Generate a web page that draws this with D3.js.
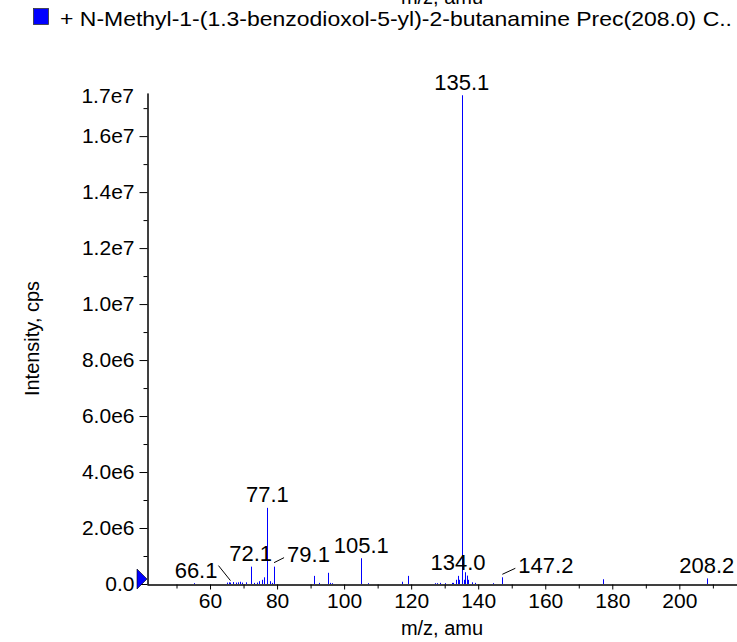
<!DOCTYPE html>
<meta charset="utf-8" />
<style>
  body { margin: 0; background: #fff; }
  svg { display: block; font-family: "Liberation Sans", Arial, Helvetica, sans-serif; }
  .peak { stroke: #0000ff; stroke-width: 1px; }
  .axis path, .axis line { stroke: #000; }
</style>
<body>
<script src="https://d3js.org/d3.v7.min.js"></script>
<script>

// ---- data ----
var legendText = "+ N-Methyl-1-(1.3-benzodioxol-5-yl)-2-butanamine Prec(208.0) C..";

// peak positions (m/z) and intensities (cps)
var peakMz = [55.1, 65.2, 65.7, 66.1, 67.0, 67.7, 68.4, 69.0, 69.6, 70.7,
              72.1, 73.1, 73.9, 74.6, 75.4, 76.2, 77.1, 77.9, 78.5, 79.1,
              91.1, 92.5, 95.1, 95.8, 96.5, 105.1, 107.0, 117.2, 119.1,
              127.1, 127.6, 128.6, 130.1, 132.1, 132.6, 133.3, 134.0, 134.4,
              135.1, 135.7, 136.1, 136.6, 137.1, 138.1, 138.9, 144.3, 147.2,
              177.1, 208.2];
var peakInt = [0.03e6, 0.05e6, 0.06e6, 0.05e6, 0.07e6, 0.05e6, 0.06e6, 0.08e6, 0.05e6, 0.06e6,
               0.62e6, 0.04e6, 0.05e6, 0.10e6, 0.15e6, 0.24e6, 2.72e6, 0.10e6, 0.04e6, 0.62e6,
               0.29e6, 0.04e6, 0.40e6, 0.04e6, 0.03e6, 0.92e6, 0.03e6, 0.08e6, 0.29e6,
               0.03e6, 0.03e6, 0.04e6, 0.03e6, 0.04e6, 0.04e6, 0.15e6, 0.29e6, 0.15e6,
               17.46e6, 0.15e6, 0.42e6, 0.30e6, 0.15e6, 0.06e6, 0.04e6, 0.03e6, 0.24e6,
               0.17e6, 0.20e6];

// annotated peaks
var labelMz = [66.1, 72.1, 77.1, 79.1, 105.1, 134.0, 135.1, 147.2, 208.2];
var labelText = ["66.1", "72.1", "77.1", "79.1", "105.1", "134.0", "135.1", "147.2", "208.2"];

// axis ticks
var xMajor = [60, 80, 100, 120, 140, 160, 180, 200];
var xMinor = [50, 70, 90, 110, 130, 150, 170, 190, 210];
var yMajor = [0, 2e6, 4e6, 6e6, 8e6, 10e6, 12e6, 14e6, 16e6];
var yMinor = [1e6, 3e6, 5e6, 7e6, 9e6, 11e6, 13e6, 15e6, 17e6];
var yTopLabel = "1.7e7";

// ---- layout ----
var W = 737, H = 642;
var mL = 147, mR = 737, mT = 93, mB = 584;

var svg = d3.select("body").append("svg")
    .attr("width", W)
    .attr("height", H);

var x = d3.scaleLinear().domain([41.2, 217.2]).range([mL, mR]);
var y = d3.scaleLinear().domain([0, 17.54e6]).range([mB, mT]);

// cropped title of the panel above
svg.append("text")
    .attr("x", (mL + mR) / 2)
    .attr("y", 4)
    .attr("text-anchor", "middle")
    .style("font-size", "20px")
    .text("m/z, amu");

// legend
svg.append("rect")
    .attr("x", 33.5).attr("y", 8.5)
    .attr("width", 15).attr("height", 16)
    .attr("fill", "#0000ff")
    .attr("stroke", "#333")
    .attr("stroke-width", 0.8);

svg.append("text")
    .attr("x", 60)
    .attr("y", 26)
    .attr("textLength", 672)
    .attr("lengthAdjust", "spacingAndGlyphs")
    .style("font-size", "21px")
    .text(legendText);

// peaks
svg.append("g").selectAll("line")
    .data(peakMz)
    .enter().append("line")
    .attr("class", "peak")
    .attr("x1", function(d) { return Math.round(x(d)) + 0.5; })
    .attr("x2", function(d) { return Math.round(x(d)) + 0.5; })
    .attr("y1", y(0))
    .attr("y2", function(d, i) { return y(peakInt[i]); });

// x axis
var fmtX = function(d) { return d; };
svg.append("g")
    .attr("class", "axis")
    .attr("transform", "translate(0," + (mB + 0.5) + ")")
    .call(d3.axisBottom(x).tickValues(xMinor).tickSize(4).tickSizeOuter(0).tickFormat(""));
var gx = svg.append("g")
    .attr("class", "axis")
    .attr("transform", "translate(0," + (mB + 0.5) + ")")
    .call(d3.axisBottom(x).tickValues(xMajor).tickSize(5).tickSizeOuter(0).tickPadding(4).tickFormat(fmtX));
gx.selectAll("text").style("font-size", "21px").attr("fill", "#000");

// y axis
var fmtY = function(d) {
  if (d === 0) return "0.0";
  return d.toExponential(1).replace("+", "");
};
svg.append("g")
    .attr("class", "axis")
    .attr("transform", "translate(" + (mL + 0.5) + ",0)")
    .call(d3.axisLeft(y).tickValues(yMinor).tickSize(4).tickSizeOuter(0).tickFormat(""));
var gy = svg.append("g")
    .attr("class", "axis")
    .attr("transform", "translate(" + (mL + 0.5) + ",0)")
    .call(d3.axisLeft(y).tickValues(yMajor).tickSize(8).tickSizeOuter(0).tickPadding(5).tickFormat(fmtY));
gy.selectAll("text").style("font-size", "21px").attr("fill", "#000");

svg.append("text")
    .attr("x", mL - 13)
    .attr("y", mT + 3)
    .attr("dy", "0.32em")
    .attr("text-anchor", "end")
    .style("font-size", "21px")
    .text(yTopLabel);

// zero marker
svg.append("path")
    .attr("d", "M" + (mL - 10) + "," + (y(0) - 15) + "L" + mL + "," + (y(0) - 5) + "L" + (mL - 10) + "," + (y(0) + 5) + "Z")
    .attr("fill", "#0000ff")
    .attr("stroke", "#000")
    .attr("stroke-width", 0.6);

// axis titles
svg.append("text")
    .attr("x", (mL + mR) / 2)
    .attr("y", 635)
    .attr("text-anchor", "middle")
    .style("font-size", "20px")
    .text("m/z, amu");

svg.append("text")
    .attr("transform", "translate(39," + ((mT + mB) / 2) + ")rotate(-90)")
    .attr("text-anchor", "middle")
    .style("font-size", "20px")
    .text("Intensity, cps");

// peak annotations
// label placement relative to peak top: anchor, dx, dy, optional leader line
var labelPlace = {
  "66.1": { anchor: "end",   dx: -13, dy: -5, lead: [-12, -17, 0, -2] },
  "79.1": { anchor: "start", dx: 13,  dy: -5, lead: [0, -4, 10, -9] },
  "147.2": { anchor: "start", dx: 16, dy: -4, lead: [0, -3, 13, -9] }
};

labelMz.forEach(function(m, i) {
  var j = peakMz.indexOf(m);
  var px = x(m), py = y(peakInt[j]);
  var p = labelPlace[labelText[i]] || { anchor: "middle", dx: 0, dy: -5.5 };
  svg.append("text")
      .attr("x", px + p.dx)
      .attr("y", py + p.dy)
      .attr("text-anchor", p.anchor)
      .style("font-size", "22px")
      .text(labelText[i]);
  if (p.lead) {
    svg.append("line")
        .attr("x1", px + p.lead[0]).attr("y1", py + p.lead[1])
        .attr("x2", px + p.lead[2]).attr("y2", py + p.lead[3])
        .attr("stroke", "#000")
        .attr("stroke-width", 1);
  }
});

</script>
</body>
